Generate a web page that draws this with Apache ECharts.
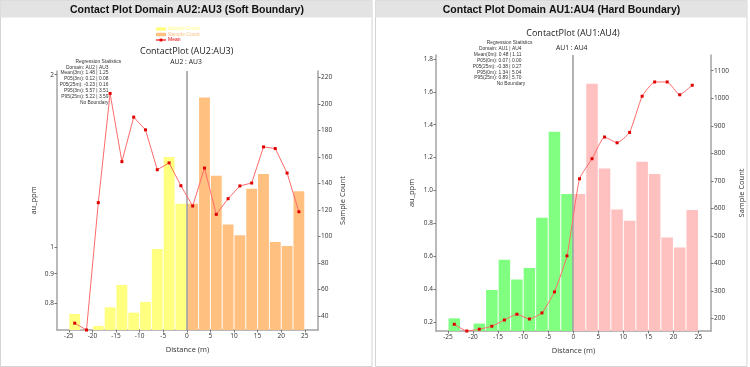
<!DOCTYPE html>
<html><head><meta charset="utf-8">
<script src="https://cdn.jsdelivr.net/npm/echarts@6/dist/echarts.min.js"></script>
<style>html,body{margin:0;padding:0;background:#fff}#c{width:750px;height:367px}</style>
</head><body><div id="c"></div>
<script>
// ---------- data ----------
const binsNeg = [-23.75,-21.25,-18.75,-16.25,-13.75,-11.25,-8.75,-6.25,-3.75,-1.25];
const binsPos = [1.25,3.75,6.25,8.75,11.25,13.75,16.25,18.75,21.25,23.75];
const xTicks = [-25,-20,-15,-10,-5,0,5,10,15,20,25];

// Left panel: AU2 | AU3
const au2Count = [41.5, 25, 32.5, 46.5, 63.4, 42.5, 50.6, 90.5, 159.9, 124.7];
const au3Count = [124.7, 204.9, 145.8, 108.9, 100.8, 136.0, 147.1, 95.8, 92.8, 134.0];
const au23Mean = [0.738, 0.718, 1.197, 1.855, 1.411, 1.687, 1.603, 1.366, 1.404, 1.281,
                  1.181, 1.375, 1.142, 1.216, 1.280, 1.295, 1.497, 1.487, 1.348, 1.154];
const au23PpmTicks = [0.8, 0.9, 1, 2];
const au23CountTicks = [40,60,80,100,120,140,160,180,200,220];
const au23Stats = ['Domain: AU2 | AU3','Mean(3m): 1.48 | 1.25','P05(3m): 0.12 | 0.08','P05(25m): -0.23 | 0.16','P95(3m): 5.57 | 3.51','P95(25m): 5.22 | 3.59','No Boundary'];

// Right panel: AU1 | AU4
const au1Count = [201, 140, 182, 304, 414, 342, 384, 566, 878, 652];
const au4Count = [652, 1053, 745, 596, 555, 769, 725, 494, 458, 594];
const au14Mean = [0.186, 0.145, 0.156, 0.174, 0.212, 0.247, 0.218, 0.255, 0.383, 0.602,
                  1.071, 1.193, 1.325, 1.290, 1.353, 1.573, 1.660, 1.660, 1.582, 1.640];
const au14PpmTicks = [0.2,0.4,0.6,0.8,1.0,1.2,1.4,1.6,1.8];
const au14CountTicks = [200,300,400,500,600,700,800,900,1000,1100];
const au14Stats = ['Domain: AU1 | AU4','Mean(0m): 0.48 | 1.11','P05(0m): 0.07 | 0.00','P05(25m): -0.38 | 0.27','P95(0m): 1.34 | 5.04','P95(25m): 0.89 | 5.70'];

// ---------- helpers ----------
const allBins = binsNeg.concat(binsPos);
const pairs = (xs, ys) => xs.map((x, i) => [x, ys[i]]);
const FONT = 'Open Sans';
const axisGray = '#a3a3a3';
const plain = v => String(v);

function xAxisCfg(grid, min, max) {
  return {
    type: 'value', gridIndex: grid, min: min, max: max,
    name: 'Distance (m)', nameLocation: 'middle', nameGap: 16,
    nameTextStyle: {fontSize: 7.5, color: '#333', fontFamily: FONT},
    axisLine: {show: true, onZero: false, lineStyle: {color: axisGray, width: 1.5}},
    axisTick: {show: true, length: 2.5, customValues: xTicks, lineStyle: {color: '#777'}},
    axisLabel: {customValues: xTicks, fontSize: 6.5, color: '#333', margin: 3, fontFamily: FONT, formatter: plain},
    splitLine: {show: false}
  };
}
function yAxisCfg(grid, pos, opts) {
  return Object.assign({
    gridIndex: grid, position: pos, nameLocation: 'middle', nameRotate: 90,
    nameTextStyle: {fontSize: 7.5, color: '#333', fontFamily: FONT},
    axisLine: {show: true, onZero: false, lineStyle: {color: axisGray, width: 1.5}},
    axisTick: {show: true, length: 2.5, customValues: opts.ticks, lineStyle: {color: '#777'}},
    axisLabel: {customValues: opts.ticks, fontSize: 6.5, color: '#333', margin: 3, fontFamily: FONT,
                formatter: opts.fmt || plain},
    splitLine: {show: false}, alignTicks: false
  }, opts.extra);
}

const zeroLine = {
  silent: true, symbol: ['none','none'], label: {show: false},
  lineStyle: {color: '#9a9a9a', width: 1.5, type: 'solid'},
  data: [{xAxis: 0}]
};
const lineStyleMean = {color: '#ff6b6b', width: 1};
const itemMean = {color: '#e00000'};

const option = {
  animation: false,
  backgroundColor: '#fff',
  grid: [
    {left: 57, top: 71, width: 261, height: 259},
    {left: 436, top: 55, width: 275, height: 276}
  ],
  legend: {
    left: 155, top: 26.5, orient: 'vertical', padding: 0, itemGap: 0.5,
    itemWidth: 10, itemHeight: 3.5,
    textStyle: {fontSize: 5, color: 'inherit', fontFamily: 'Liberation Sans', padding: [0,0,0,-3]},
    data: ['Sample Count', 'Sample Count ', 'Mean']
  },
  xAxis: [xAxisCfg(0, -27.5, 27.8), xAxisCfg(1, -27.4, 27.5)],
  yAxis: [
    yAxisCfg(0, 'left', {ticks: au23PpmTicks, extra: {type: 'log', logBase: 10, min: 0.718, max: 2.03, name: 'au_ppm', nameGap: 19}}),
    yAxisCfg(0, 'right', {ticks: au23CountTicks, extra: {type: 'value', min: 29.4, max: 224.8, name: 'Sample Count', nameGap: 21}}),
    yAxisCfg(1, 'left', {ticks: au14PpmTicks, fmt: v => v.toFixed(1), extra: {type: 'value', min: 0.145, max: 1.824, name: 'au_ppm', nameGap: 20.5}}),
    yAxisCfg(1, 'right', {ticks: au14CountTicks, extra: {type: 'value', min: 155, max: 1157, name: 'Sample Count', nameGap: 27}})
  ],
  series: [
    {name: 'Sample Count', type: 'bar', xAxisIndex: 0, yAxisIndex: 1, barWidth: '92%', barGap: '-100%',
     itemStyle: {color: '#ffff80'}, data: pairs(binsNeg, au2Count), markLine: zeroLine},
    {name: 'Sample Count ', type: 'bar', xAxisIndex: 0, yAxisIndex: 1, barWidth: '92%', barGap: '-100%',
     itemStyle: {color: '#ffc080'}, data: pairs(binsPos, au3Count)},
    {name: 'Mean', type: 'line', xAxisIndex: 0, yAxisIndex: 0, symbol: 'rect', symbolSize: 3,
     lineStyle: lineStyleMean, itemStyle: itemMean, data: pairs(allBins, au23Mean), z: 5},

    {name: 'AU1 Count', type: 'bar', xAxisIndex: 1, yAxisIndex: 3, barWidth: '92%', barGap: '-100%',
     itemStyle: {color: '#80ff80'}, data: pairs(binsNeg, au1Count), markLine: zeroLine},
    {name: 'AU4 Count', type: 'bar', xAxisIndex: 1, yAxisIndex: 3, barWidth: '92%', barGap: '-100%',
     itemStyle: {color: '#ffc0c0'}, data: pairs(binsPos, au4Count)},
    {name: 'AU1AU4 Mean', type: 'line', xAxisIndex: 1, yAxisIndex: 2, symbol: 'rect', symbolSize: 3,
     smooth: 0.15, lineStyle: lineStyleMean, itemStyle: itemMean, data: pairs(allBins, au14Mean), z: 5}
  ],
  graphic: [
    // panels
    {type: 'rect', z: -10, silent: true, shape: {x: 0.5, y: 0.5, width: 371.5, height: 366}, style: {fill: '#fff', stroke: '#d4d4d4', lineWidth: 1}},
    {type: 'rect', z: -10, silent: true, shape: {x: 375.5, y: 0.5, width: 371.5, height: 366}, style: {fill: '#fff', stroke: '#d4d4d4', lineWidth: 1}},
    {type: 'rect', z: -9, silent: true, shape: {x: 0.5, y: 0.5, width: 371.5, height: 17}, style: {fill: '#e3e3e3'}},
    {type: 'rect', z: -9, silent: true, shape: {x: 375.5, y: 0.5, width: 371.5, height: 17}, style: {fill: '#e3e3e3'}},
    {type: 'text', x: 187, y: 9.7, style: {text: 'Contact Plot Domain AU2:AU3 (Soft Boundary)', fontSize: 10.5, fontWeight: 'bold', fontFamily: 'Liberation Sans', fill: '#111', textAlign: 'center', textVerticalAlign: 'middle'}},
    {type: 'text', x: 561.5, y: 9.7, style: {text: 'Contact Plot Domain AU1:AU4 (Hard Boundary)', fontSize: 10.5, fontWeight: 'bold', fontFamily: 'Liberation Sans', fill: '#111', textAlign: 'center', textVerticalAlign: 'middle'}},
    // sub titles
    {type: 'text', x: 186.7, y: 51.7, style: {text: 'ContactPlot (AU2:AU3)', fontSize: 9, fontFamily: FONT, fill: '#222', textAlign: 'center', textVerticalAlign: 'middle'}},
    {type: 'text', x: 186, y: 62, style: {text: 'AU2 : AU3', fontSize: 6.8, fontFamily: FONT, fill: '#222', textAlign: 'center', textVerticalAlign: 'middle'}},
    {type: 'text', x: 573, y: 33.5, style: {text: 'ContactPlot (AU1:AU4)', fontSize: 9, fontFamily: FONT, fill: '#222', textAlign: 'center', textVerticalAlign: 'middle'}},
    {type: 'text', x: 571.7, y: 47.7, style: {text: 'AU1 : AU4', fontSize: 6.8, fontFamily: FONT, fill: '#222', textAlign: 'center', textVerticalAlign: 'middle'}},
    // stats
    {type: 'text', x: 98.3, y: 61.7, style: {text: 'Regression Statistics', fontSize: 4.9, fontFamily: 'Liberation Sans', fill: '#333', textAlign: 'center', textVerticalAlign: 'middle'}},
    {type: 'text', x: 108.5, y: 64.4, style: {text: au23Stats.join('\n'), fontSize: 4.9, lineHeight: 5.83, fontFamily: 'Liberation Sans', fill: '#333', textAlign: 'right', textVerticalAlign: 'top'}},
    {type: 'text', x: 509.5, y: 42.7, style: {text: 'Regression Statistics', fontSize: 4.9, fontFamily: 'Liberation Sans', fill: '#333', textAlign: 'center', textVerticalAlign: 'middle'}},
    {type: 'text', x: 521.5, y: 45.8, style: {text: au14Stats.join('\n'), fontSize: 4.9, lineHeight: 5.86, fontFamily: 'Liberation Sans', fill: '#333', textAlign: 'right', textVerticalAlign: 'top'}},
    {type: 'text', x: 511, y: 83.7, style: {text: 'No Boundary', fontSize: 4.9, fontFamily: 'Liberation Sans', fill: '#333', textAlign: 'center', textVerticalAlign: 'middle'}}
  ]
};

const chart = echarts.init(document.getElementById('c'), null, {renderer: 'canvas'});
chart.setOption(option);
</script>
</body></html>
